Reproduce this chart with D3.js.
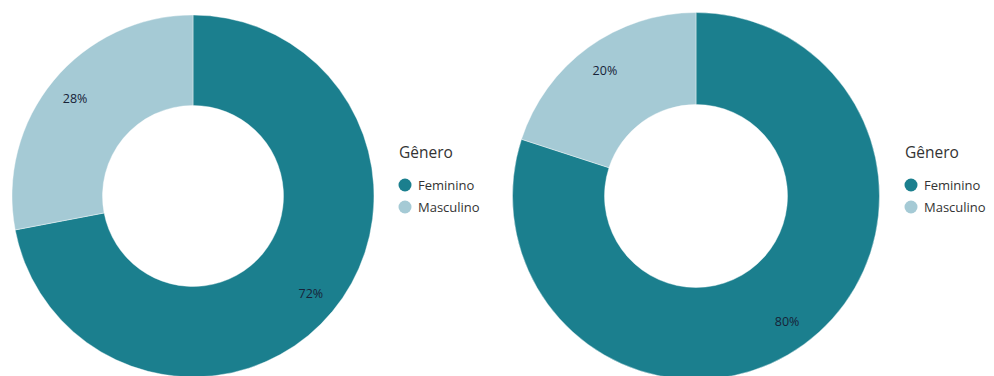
<!DOCTYPE html>
<html>
<head>
<meta charset="utf-8">
<script src="https://cdn.jsdelivr.net/npm/d3@7"></script>
<style>
  html, body { margin: 0; padding: 0; background: #ffffff; }
  svg { display: block; }
</style>
</head>
<body>
<script>
// Gender split, two survey groups
const categories = ["Feminino", "Masculino"];
const valuesLeft = [72, 28];
const valuesRight = [80, 20];
const legendTitle = "Gênero";

const W = 994, H = 376;
const color = d3.scaleOrdinal().domain(categories).range(["#1b7f8e", "#a5cad5"]);

const svg = d3.select("body").append("svg")
  .attr("width", W).attr("height", H)
  .style("font-family", "'Open Sans', 'Noto Sans', sans-serif");

const pie = d3.pie().sort(null).value(d => d.value);

function donut(values, cx, cy, rOuter, rInner, rLabel, legendX) {
  const data = categories.map((c, i) => ({ key: c, value: values[i] }));
  const arcs = pie(data);
  const arc = d3.arc().innerRadius(rInner).outerRadius(rOuter);
  const labelArc = d3.arc().innerRadius(rLabel).outerRadius(rLabel);
  const total = d3.sum(values);

  const g = svg.append("g").attr("transform", `translate(${cx},${cy})`);
  g.selectAll("path").data(arcs).join("path")
    .attr("d", arc)
    .attr("fill", d => color(d.data.key))
    .attr("stroke", "#ffffff")
    .attr("stroke-width", 0.4);

  g.selectAll("text").data(arcs).join("text")
    .attr("transform", d => `translate(${labelArc.centroid(d)})`)
    .attr("text-anchor", "middle")
    .attr("dominant-baseline", "central")
    .attr("font-size", 12.5)
    .attr("fill", "#172338")
    .text(d => Math.round(d.data.value / total * 100) + "%");

  const lg = svg.append("g").attr("transform", `translate(${legendX},0)`);
  lg.append("text")
    .attr("x", -6).attr("y", 158)
    .attr("font-size", 15.5)
    .attr("fill", "#333333")
    .text(legendTitle);
  const items = lg.selectAll("g.item").data(categories).join("g")
    .attr("class", "item")
    .attr("transform", (d, i) => `translate(0,${185 + i * 22})`);
  items.append("circle").attr("r", 6.5).attr("fill", d => color(d));
  items.append("text")
    .attr("x", 13).attr("y", 0)
    .attr("dominant-baseline", "central")
    .attr("font-size", 13)
    .attr("fill", "#333333")
    .text(d => d);
}

donut(valuesLeft, 193, 196, 181, 90.5, 153, 405);
donut(valuesRight, 696, 196, 183.5, 91.5, 155, 911);
</script>
</body>
</html>
